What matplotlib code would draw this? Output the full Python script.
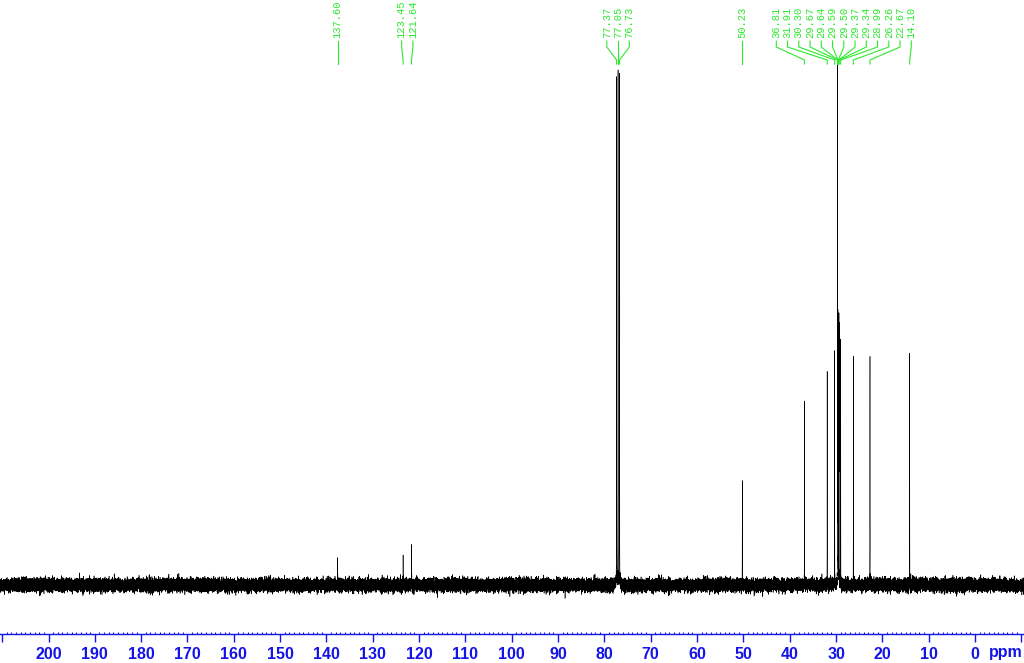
import numpy as np
import matplotlib
matplotlib.use('Agg')
import matplotlib.pyplot as plt
from matplotlib.ticker import MultipleLocator, FuncFormatter

# 13C peak list (ppm) and relative heights
shifts = [137.60, 123.45, 121.64, 77.37, 77.05, 76.73, 50.23,
          36.81, 31.91, 30.30, 29.67, 29.64, 29.59, 29.50, 29.37,
          29.34, 28.99, 26.26, 22.67, 14.10]
heights = [0.043, 0.057, 0.080, 1.0, 1.0, 1.0, 0.197,
           0.376, 0.439, 0.472, 1.0, 0.56, 0.53, 0.52, 0.49,
           0.48, 0.48, 0.462, 0.464, 0.445]
widths = [0.02, 0.015, 0.015, 0.012, 0.012, 0.012, 0.008,
          0.008, 0.008, 0.008, 0.008, 0.008, 0.008, 0.008, 0.008,
          0.008, 0.008, 0.008, 0.008, 0.008]
noise_level = 0.0058   # baseline noise (fraction of tallest peak)

tick_labels = list(range(0, 201, 10))

W, H = 1024, 663
PX200, PX0 = 48.5, 975.0          # pixel x of 200 ppm and 0 ppm
scale = (PX0 - PX200) / 200.0     # px per ppm
x_left = 200 + PX200 / scale
x_right = -(W - PX0) / scale
Y_AXIS, Y_BASE, Y_TOP = 634, 585, 72

def ppm2px(p):
    return PX0 - p * scale

blue = '#1414e6'
green = '#2ee82e'

fig = plt.figure(figsize=(W / 100, H / 100), dpi=100)
ax = fig.add_axes([0, (H - Y_AXIS) / H, 1, Y_AXIS / H])

# spectrum = lorentzian lines + baseline noise
x = np.linspace(x_left, x_right, 60000)
y = np.zeros_like(x)
for s, h, w in zip(shifts, heights, widths):
    y += h / (1 + ((x - s) / w) ** 2)
rng = np.random.default_rng(7)
y += rng.normal(0, noise_level, x.size)

ax.plot(x, y, color='black', lw=0.4)
unit = Y_BASE - Y_TOP
ax.set_xlim(x_left, x_right)
ax.set_ylim(-(Y_AXIS - Y_BASE) / unit, Y_BASE / unit)

for s in ['left', 'right', 'top']:
    ax.spines[s].set_visible(False)
ax.spines['bottom'].set_color(blue)
ax.spines['bottom'].set_linewidth(1.0)
ax.set_yticks([])
ax.xaxis.set_major_locator(MultipleLocator(10))
ax.xaxis.set_minor_locator(MultipleLocator(1))
ax.xaxis.set_major_formatter(FuncFormatter(
    lambda v, pos: str(int(round(v))) if int(round(v)) in tick_labels else ''))
ax.tick_params(axis='x', which='major', direction='out', length=5.5, width=1,
               color=blue, labelcolor=blue, pad=4, labelsize=11.5)
ax.tick_params(axis='x', which='minor', direction='in', length=1.8, width=0.8,
               color=blue)
for lab in ax.get_xticklabels():
    lab.set_fontweight('bold')
    lab.set_family('Liberation Sans')

# overlay in pixel coords for the peak labels
ov = fig.add_axes([0, 0, 1, 1], zorder=5)
ov.set_xlim(0, W)
ov.set_ylim(H, 0)
ov.axis('off')
ov.patch.set_alpha(0)

ov.text(1006, 653, 'ppm', ha='center', va='center', color=blue,
        fontsize=11.5, fontweight='bold', family='Liberation Sans')

# spread label positions so they do not overlap
gap = 11.25
pks = sorted([ppm2px(s) for s in shifts])
order = np.argsort([ppm2px(s) for s in shifts])
groups = [[p] for p in pks]
merged = True
while merged:
    merged = False
    new = []
    for g in groups:
        if new:
            prev = new[-1]
            r = np.mean(prev) + (len(prev) - 1) / 2 * gap
            l = np.mean(g) - (len(g) - 1) / 2 * gap
            if l - r < gap:
                new[-1] = prev + g
                merged = True
                continue
        new.append(g)
    groups = new
label_x = []
for g in groups:
    c = np.mean(g)
    for k in range(len(g)):
        label_x.append(c + (k - (len(g) - 1) / 2) * gap)

for k, i in enumerate(order):
    px = ppm2px(shifts[i])
    lx = label_x[k]
    ov.plot([lx, lx, px, px], [41, 47, 60, 64], color=green, lw=0.8)
    ov.text(lx, 38.5, '%.2f' % shifts[i], rotation=90, ha='center', va='bottom',
            color=green, fontsize=7.6, family='Liberation Mono')

fig.savefig('out.png', dpi=100)
